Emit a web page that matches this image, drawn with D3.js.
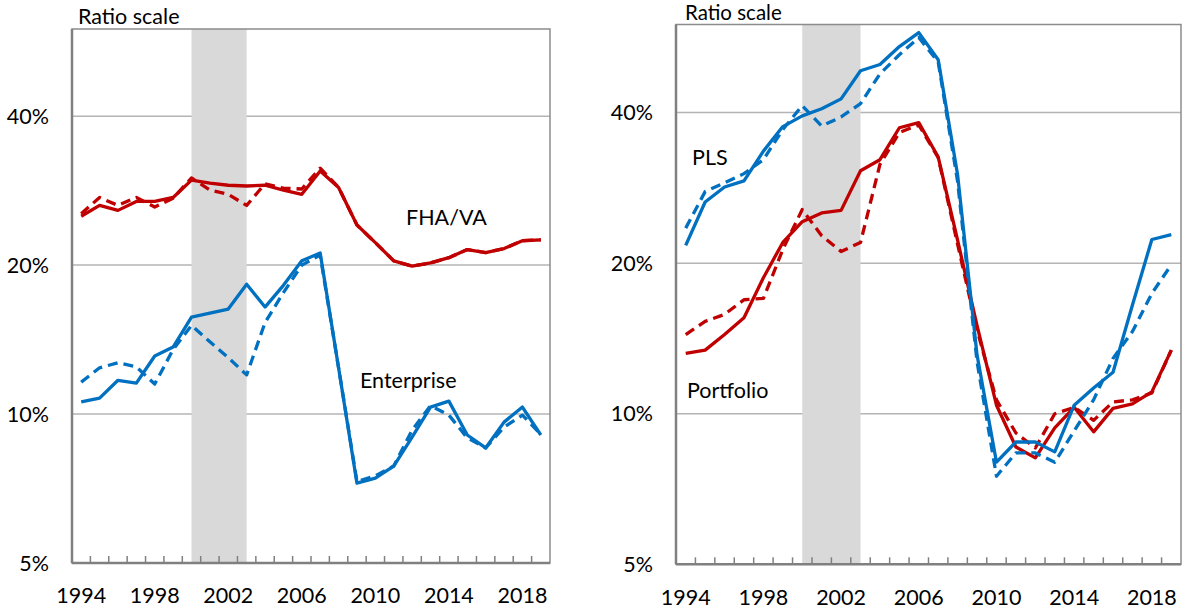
<!DOCTYPE html>
<html><head><meta charset="utf-8">
<script src="https://cdn.jsdelivr.net/npm/d3@7"></script>
<style>
body{margin:0;background:#fff}
svg{display:block}
text{font-family:Lato,"Open Sans",sans-serif;fill:#000}
</style>
</head><body>
<svg id="c" width="1183" height="611"></svg>
<script>
const years = [1994,1995,1996,1997,1998,1999,2000,2001,2002,2003,2004,2005,2006,2007,2008,2009,2010,2011,2012,2013,2014,2015,2016,2017,2018,2019];
const xTickLabels = [1994,1998,2002,2006,2010,2014,2018];
const yTicks = [5,10,20,40];
const recession = [2000,2003];

// Left panel
const fhaSolid   = [25.1,26.4,25.8,26.9,26.9,27.4,29.7,29.3,29.0,28.9,29.0,28.35,27.8,31.0,28.7,24.1,22.2,20.4,19.9,20.2,20.7,21.5,21.2,21.6,22.4,22.5];
const fhaDashed  = [25.4,27.4,26.4,27.4,26.2,27.3,30.0,28.35,27.8,26.4,29.2,28.6,28.5,31.4,28.7,24.1,22.2,20.4,19.9,20.2,20.7,21.5,21.2,21.6,22.4,22.5];
const entSolid   = [10.58,10.77,11.7,11.55,13.1,13.66,15.7,16.0,16.3,18.3,16.45,18.2,20.4,21.15,12.4,7.25,7.42,7.85,8.98,10.33,10.62,9.07,8.54,9.63,10.33,9.07];
const entDashed  = [11.6,12.4,12.7,12.45,11.5,13.5,15.1,14.0,13.0,12.0,15.3,17.6,20.0,20.95,12.4,7.3,7.5,7.85,9.28,10.4,9.95,8.95,8.54,9.41,9.95,9.1];

// Right panel
const plsSolid   = [21.7,26.5,28.4,29.2,33.5,37.5,39.4,40.7,42.6,48.5,49.9,54.2,57.8,51.0,30.0,13.1,8.0,8.78,8.78,8.39,10.4,11.26,12.1,16.5,22.3,22.8];
const plsDashed  = [23.5,27.8,28.95,30.2,32.2,37.0,41.3,37.6,39.2,41.7,47.8,52.2,56.5,50.5,29.1,12.7,7.5,8.35,8.35,8.0,9.24,10.66,12.9,14.6,17.4,19.85];
const portSolid  = [13.2,13.4,14.4,15.55,18.7,22.0,24.2,25.2,25.5,30.6,32.2,37.3,38.2,32.6,22.2,15.0,10.4,8.58,8.16,9.37,10.3,9.2,10.25,10.46,11.06,13.4];
const portDashed = [14.4,15.3,15.8,16.9,17.0,21.3,25.6,22.7,21.1,22.0,31.5,36.5,37.8,32.5,21.8,14.7,10.66,9.15,8.54,10.0,10.3,9.7,10.56,10.66,11.0,13.4];

const RED = "#C00000", BLUE = "#0070C0";
const svg = d3.select("#c");
const FS = 21.5;

function panel(cfg){
  const g = svg.append("g");
  const x = d3.scaleBand().domain(years).range([cfg.x0, cfg.x1]).padding(0);
  const cx = d => x(d) + x.bandwidth()/2;
  const y = d3.scaleLog().domain([5,60]).range([cfg.y1, cfg.y0]);

  g.selectAll(".grid").data(yTicks.filter(t=>t>5)).join("line")
    .attr("x1",cfg.x0).attr("x2",cfg.x1)
    .attr("y1",d=>y(d)).attr("y2",d=>y(d))
    .attr("stroke","#b4b4b4").attr("stroke-width",1.5);

  g.append("rect")
    .attr("x",cx(recession[0])).attr("width",cx(recession[1])-cx(recession[0]))
    .attr("y",cfg.y0).attr("height",cfg.y1-cfg.y0)
    .attr("fill","#d9d9d9");

  g.append("rect").attr("x",cfg.x0).attr("y",cfg.y0)
    .attr("width",cfg.x1-cfg.x0).attr("height",cfg.y1-cfg.y0)
    .attr("fill","none").attr("stroke","#8c8c8c").attr("stroke-width",1.5);

  const line = d3.line().x((d,i)=>cx(years[i])).y(d=>y(d));
  cfg.series.forEach(s=>{
    g.append("path").datum(s.values)
      .attr("d",line).attr("fill","none")
      .attr("stroke",s.color).attr("stroke-width",3.3)
      .attr("stroke-linejoin","round")
      .attr("stroke-dasharray",s.dashed?"10,6":null);
  });

  const xAxisG = g.append("g");
  xAxisG.selectAll("line.tick").data(years.slice(1)).join("line")
    .attr("x1",d=>x(d)).attr("x2",d=>x(d))
    .attr("y1",cfg.y1).attr("y2",cfg.y1-7)
    .attr("stroke","#808080").attr("stroke-width",1.5);
  g.append("line").attr("x1",cfg.x0).attr("x2",cfg.x1).attr("y1",cfg.y1).attr("y2",cfg.y1)
    .attr("stroke","#808080").attr("stroke-width",2.5);
  g.append("line").attr("x1",cfg.x0).attr("x2",cfg.x0).attr("y1",cfg.y0).attr("y2",cfg.y1)
    .attr("stroke","#808080").attr("stroke-width",2.5);

  xAxisG.selectAll("text").data(xTickLabels).join("text")
    .attr("x",d=>cx(d)).attr("y",cfg.xLabelY)
    .attr("text-anchor","middle").attr("font-size",FS)
    .text(d=>d);

  g.selectAll("text.yl").data(yTicks).join("text").attr("class","yl")
    .attr("x",cfg.x0-23).attr("y",d=>y(d)).attr("dy","0.35em")
    .attr("text-anchor","end").attr("font-size",FS)
    .text(d=>d+"%");

  g.append("text").attr("x",cfg.ratioX).attr("y",cfg.ratioY)
    .attr("font-size",cfg.ratioFS).text("Ratio scale");

  cfg.labels.forEach(l=>{
    g.append("text").attr("x",l.x).attr("y",l.y).attr("dy","0.35em")
      .attr("font-size",FS).text(l.text);
  });
}

panel({
  x0:72, x1:550, y0:29, y1:563, xLabelY:603, ratioX:78, ratioY:24, ratioFS:FS,
  series:[
    {values:fhaDashed,color:RED,dashed:true},
    {values:fhaSolid,color:RED,dashed:false},
    {values:entDashed,color:BLUE,dashed:true},
    {values:entSolid,color:BLUE,dashed:false}
  ],
  labels:[{text:"FHA/VA",x:406,y:217},{text:"Enterprise",x:360,y:380}]
});

panel({
  x0:676, x1:1181, y0:24.5, y1:564.3, xLabelY:605, ratioX:685, ratioY:20, ratioFS:20.5,
  series:[
    {values:portDashed,color:RED,dashed:true},
    {values:portSolid,color:RED,dashed:false},
    {values:plsDashed,color:BLUE,dashed:true},
    {values:plsSolid,color:BLUE,dashed:false}
  ],
  labels:[{text:"PLS",x:692,y:157},{text:"Portfolio",x:687,y:390}]
});
</script>
</body></html>
